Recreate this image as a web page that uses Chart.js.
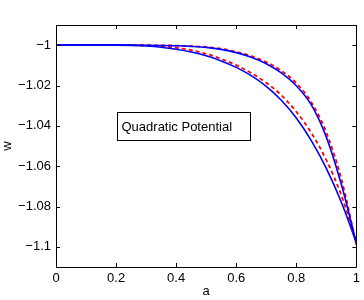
<!DOCTYPE html>
<html>
<head>
<meta charset="utf-8">
<script src="https://cdn.jsdelivr.net/npm/chart.js@4"></script>
<style>
  html, body { margin: 0; padding: 0; background: #fff; }
  #wrap { width: 364px; height: 300px; }
</style>
</head>
<body>
<div id="wrap"><canvas id="chart"></canvas></div>
<script>
// values
const aValues = [0, 0.1, 0.2, 0.25, 0.3, 0.35, 0.4, 0.45, 0.5, 0.55, 0.6, 0.65, 0.7, 0.75, 0.8, 0.85, 0.9, 0.95, 1];
const outerBlue = [-1, -1, -1, -1, -1.00005, -1.00015, -1.0003, -1.0006, -1.0011, -1.0021, -1.0037, -1.006, -1.0092, -1.0137, -1.0201, -1.0296, -1.0456, -1.0691, -1.0981];
const outerRed  = [-1, -1, -1, -1, -1.00003, -1.0001, -1.00022, -1.0005, -1.0009, -1.0018, -1.0033, -1.0054, -1.0084, -1.0127, -1.0188, -1.0283, -1.0433, -1.0663, -1.099];
const innerBlue = [-1, -1, -1, -1.0001, -1.0004, -1.001, -1.002, -1.0034, -1.0053, -1.0078, -1.011, -1.0151, -1.0204, -1.0273, -1.0361, -1.0473, -1.0611, -1.0779, -1.098];
const innerRed  = [-1, -1, -1, -1, -1.0002, -1.0006, -1.0013, -1.0025, -1.0043, -1.0068, -1.0099, -1.0138, -1.0186, -1.0248, -1.033, -1.0435, -1.057, -1.0745, -1.098];
const yTicks = [-1, -1.02, -1.04, -1.06, -1.08, -1.1];
const xTicks = [0, 0.2, 0.4, 0.6, 0.8, 1];
const noteText = 'Quadratic Potential';

const FONT = 'Liberation Sans, Arial, Helvetica, sans-serif';

function pts(ys) {
    return aValues.map((a, i) => ({ x: a, y: ys[i] }));
}
function fmt(v) {
    const s = String(+v.toFixed(2));
    return s.replace('-', '\u2212');
}

// matlab-style frame, inward ticks and the text box
const framePlugin = {
    id: 'frame',
    afterDraw(chart) {
        const { ctx, chartArea: ca, scales } = chart;
        const xs = scales.x, ys = scales.y;
        ctx.save();
        ctx.strokeStyle = '#000';
        ctx.lineWidth = 1;
        ctx.beginPath();
        ctx.rect(Math.round(ca.left) + 0.5, Math.round(ca.top) + 0.5,
                 Math.round(ca.right - ca.left), Math.round(ca.bottom - ca.top));
        ctx.stroke();
        ctx.beginPath();
        xTicks.forEach(t => {
            const px = Math.round(xs.getPixelForValue(t)) + 0.5;
            ctx.moveTo(px, ca.bottom); ctx.lineTo(px, ca.bottom - 4);
            ctx.moveTo(px, ca.top); ctx.lineTo(px, ca.top + 4);
        });
        yTicks.forEach(t => {
            const py = Math.round(ys.getPixelForValue(t)) + 0.5;
            ctx.moveTo(ca.left, py); ctx.lineTo(ca.left + 4, py);
            ctx.moveTo(ca.right, py); ctx.lineTo(ca.right - 4, py);
        });
        ctx.stroke();

        // annotation box
        const x0 = Math.round(xs.getPixelForValue(0.202)) + 0.5;
        const x1 = Math.round(xs.getPixelForValue(0.645)) + 0.5;
        const y0 = Math.round(ys.getPixelForValue(-1.0330)) + 0.5;
        const y1 = Math.round(ys.getPixelForValue(-1.0472)) + 0.5;
        ctx.fillStyle = '#fff';
        ctx.fillRect(x0, y0, x1 - x0, y1 - y0);
        ctx.strokeRect(x0, y0, x1 - x0, y1 - y0);
        ctx.fillStyle = '#000';
        ctx.font = '13px ' + FONT;
        ctx.textBaseline = 'middle';
        ctx.textAlign = 'left';
        ctx.fillText(noteText, x0 + 4, (y0 + y1) / 2 + 1);
        ctx.restore();
    }
};

window.onload = function() {
    const ctx = document.getElementById('chart').getContext('2d');
    new Chart(ctx, {
        type: 'line',
        data: {
            datasets: [
                { data: pts(outerBlue), borderColor: '#0000ff', borderWidth: 1.6 },
                { data: pts(innerBlue), borderColor: '#0000ff', borderWidth: 1.6 },
                { data: pts(outerRed), borderColor: '#ff0000', borderWidth: 1.8, borderDash: [4, 3] },
                { data: pts(innerRed), borderColor: '#ff0000', borderWidth: 1.8, borderDash: [4, 3] }
            ]
        },
        options: {
            responsive: true,
            maintainAspectRatio: false,
            animation: false,
            events: [],
            cubicInterpolationMode: 'monotone',
            elements: { point: { radius: 0 } },
            layout: { padding: { left: 0, top: 25, right: 6, bottom: 0 } },
            plugins: {
                legend: { display: false },
                tooltip: { enabled: false }
            },
            scales: {
                x: {
                    type: 'linear',
                    min: 0, max: 1,
                    afterBuildTicks: s => { s.ticks = xTicks.map(v => ({ value: v })); },
                    afterFit: s => { s.height = 33; },
                    grid: { display: false, drawTicks: false },
                    border: { display: false },
                    ticks: {
                        padding: 4,
                        color: '#000',
                        font: { family: FONT, size: 13 },
                        callback: v => fmt(v)
                    },
                    title: {
                        display: true, text: 'a', color: '#000',
                        font: { family: FONT, size: 13 },
                        padding: { top: 0, bottom: 1 }
                    }
                },
                y: {
                    type: 'linear',
                    min: -1.11, max: -0.99,
                    afterBuildTicks: s => { s.ticks = yTicks.map(v => ({ value: v })); },
                    afterFit: s => { s.width = 56; },
                    grid: { display: false, drawTicks: false },
                    border: { display: false },
                    ticks: {
                        padding: 5,
                        color: '#000',
                        font: { family: FONT, size: 13 },
                        callback: v => fmt(v)
                    },
                    title: {
                        display: true, text: 'w', color: '#000',
                        font: { family: FONT, size: 13 },
                        padding: { top: 0, bottom: 0 }
                    }
                }
            }
        },
        plugins: [framePlugin]
    });
};
</script>
</body>
</html>
